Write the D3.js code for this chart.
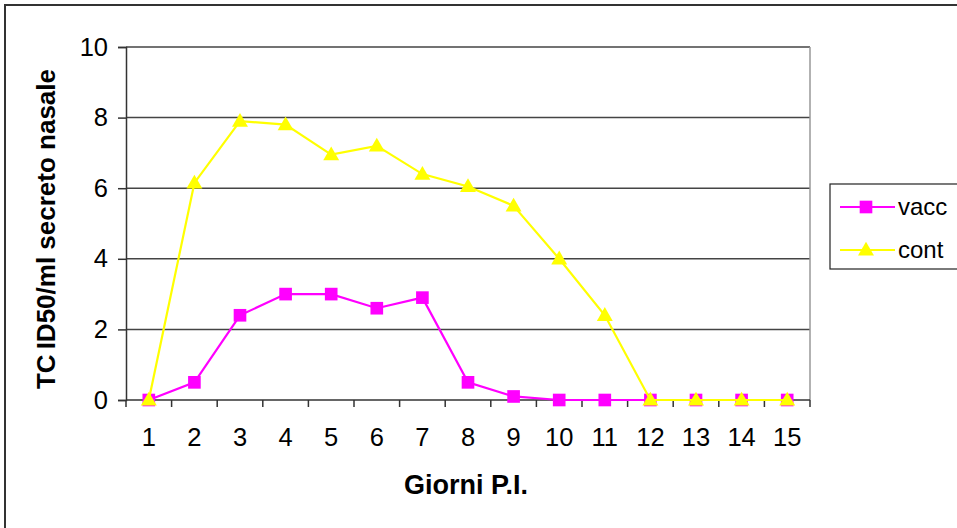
<!DOCTYPE html>
<html>
<head>
<meta charset="utf-8">
<script src="https://cdn.jsdelivr.net/npm/d3@7"></script>
<style>
  html, body { margin: 0; padding: 0; background: #fff; }
  svg { display: block; font-family: "Liberation Sans", Arial, sans-serif; }
</style>
</head>
<body>
<svg id="chart" width="957" height="528"></svg>
<script>
// Days post-infection and nasal titres for the two groups
const days = ["1","2","3","4","5","6","7","8","9","10","11","12","13","14","15"];
const vacc = [0, 0.5, 2.4, 3.0, 3.0, 2.6, 2.9, 0.5, 0.1, 0, 0, 0, 0, 0, 0];
const cont = [0, 6.15, 7.9, 7.8, 6.95, 7.2, 6.4, 6.05, 5.5, 4.0, 2.4, 0, 0, 0, 0];
const yTicks = [0, 2, 4, 6, 8, 10];
const seriesNames = ["vacc", "cont"];

const svg = d3.select("#chart");
const plot = { left: 126, right: 810, top: 47, bottom: 400 };

// Outer frame of the chart area
svg.append("rect")
  .attr("x", 5).attr("y", 5).attr("width", 1000).attr("height", 600)
  .attr("fill", "#fff").attr("stroke", "#333").attr("stroke-width", 2);

const x = d3.scaleBand().domain(days).range([plot.left, plot.right]);
const y = d3.scaleLinear().domain([0, 10]).range([plot.bottom, plot.top]);

// Horizontal gridlines
svg.append("g").selectAll("line").data(yTicks.filter(d => d > 0)).join("line")
  .attr("x1", plot.left).attr("x2", plot.right)
  .attr("y1", d => y(d)).attr("y2", d => y(d))
  .attr("stroke", "#444").attr("stroke-width", 1.5);

// Right edge of the plot area
svg.append("line")
  .attr("x1", plot.right).attr("x2", plot.right)
  .attr("y1", plot.top).attr("y2", plot.bottom)
  .attr("stroke", "#999").attr("stroke-width", 1.5);

// Y axis
const yAxis = d3.axisLeft(y).tickValues(yTicks).tickSize(8).tickPadding(10);
const gy = svg.append("g").attr("transform", `translate(${plot.left},0)`).call(yAxis);
gy.select(".domain").attr("stroke", "#333").attr("stroke-width", 1.5);
gy.selectAll(".tick line").attr("stroke", "#333").attr("stroke-width", 1.5);
gy.selectAll(".tick text").attr("font-size", 25.5).attr("fill", "#000")
  .attr("font-family", "Liberation Sans, Arial, sans-serif");

// X axis: ticks sit on the band edges, labels in the band centres
const edges = days.map(d => x(d)).concat([x(days[days.length - 1]) + x.bandwidth()]);
const gx = svg.append("g");
gx.append("line")
  .attr("x1", plot.left).attr("x2", plot.right)
  .attr("y1", plot.bottom).attr("y2", plot.bottom)
  .attr("stroke", "#333").attr("stroke-width", 1.5);
gx.selectAll("line.tk").data(edges).join("line").attr("class", "tk")
  .attr("x1", d => d).attr("x2", d => d)
  .attr("y1", plot.bottom).attr("y2", plot.bottom + 7)
  .attr("stroke", "#333").attr("stroke-width", 1.5);
gx.selectAll("text").data(days).join("text")
  .attr("x", d => x(d) + x.bandwidth() / 2)
  .attr("y", 446)
  .attr("text-anchor", "middle")
  .attr("font-size", 25.5)
  .attr("fill", "#000")
  .text(d => d);

// Axis titles
svg.append("text")
  .attr("x", 466).attr("y", 494)
  .attr("text-anchor", "middle")
  .attr("font-size", 27).attr("font-weight", "bold")
  .text("Giorni P.I.");
const yt = svg.append("text")
  .attr("transform", "translate(55,229) rotate(-90)")
  .attr("text-anchor", "middle")
  .attr("font-size", 26).attr("font-weight", "bold");
yt.append("tspan").text("TC");
yt.append("tspan").attr("dx", 5).text("ID50/ml secreto nasale");

// Series
const colors = { vacc: "#FF00FF", cont: "#FFFF00" };
const dataBy = { vacc, cont };
const cx = i => x(days[i]) + x.bandwidth() / 2;
const line = d3.line().x((d, i) => cx(i)).y(d => y(d));

const square = d3.symbol().type(d3.symbolSquare).size(160);
const triangle = d3.symbol().type(d3.symbolTriangle).size(110);

seriesNames.forEach(name => {
  const g = svg.append("g");
  g.append("path").datum(dataBy[name])
    .attr("d", line).attr("fill", "none")
    .attr("stroke", colors[name]).attr("stroke-width", 2.2);
  g.selectAll("path.m").data(dataBy[name]).join("path").attr("class", "m")
    .attr("transform", (d, i) => `translate(${cx(i)},${y(d) + (name === "cont" ? 1 : 0)})`)
    .attr("d", name === "vacc" ? square : triangle)
    .attr("fill", colors[name]);
});

// Legend
const lg = svg.append("g");
lg.append("rect")
  .attr("x", 830).attr("y", 184).attr("width", 140).attr("height", 85)
  .attr("fill", "#fff").attr("stroke", "#222").attr("stroke-width", 1.2);
seriesNames.forEach((name, i) => {
  const ly = 207 + i * 43;
  lg.append("line").attr("x1", 840).attr("x2", 895).attr("y1", ly).attr("y2", ly)
    .attr("stroke", colors[name]).attr("stroke-width", 2.2);
  lg.append("path")
    .attr("transform", `translate(866,${ly + (name === "cont" ? 1 : 0)})`)
    .attr("d", name === "vacc" ? square : triangle)
    .attr("fill", colors[name]);
  lg.append("text").attr("x", 898).attr("y", ly + 8)
    .attr("font-size", 24).attr("fill", "#000").text(name);
});
</script>
</body>
</html>
